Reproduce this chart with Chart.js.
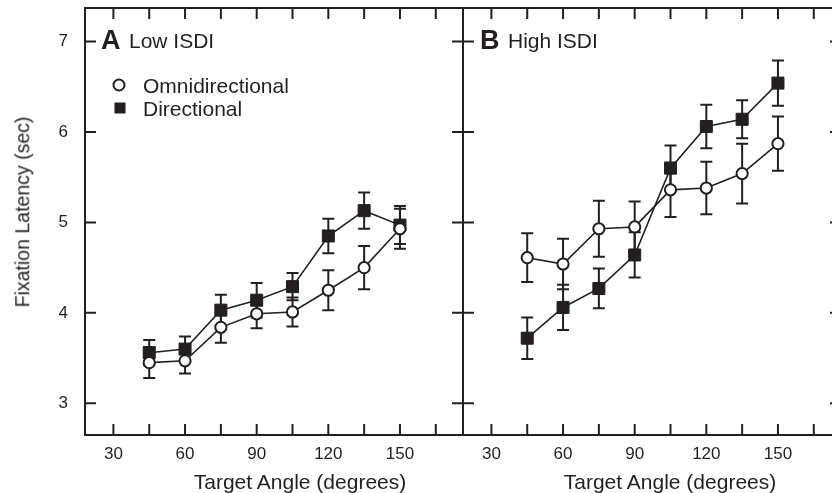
<!DOCTYPE html>
<html>
<head>
<meta charset="utf-8">
<script src="https://cdn.jsdelivr.net/npm/chart.js@4.4.1/dist/chart.umd.min.js"></script>
<style>
  html, body { margin: 0; padding: 0; background: #fff; }
  body { width: 832px; height: 493px; overflow: hidden; position: relative;
         font-family: "Liberation Sans", Arial, sans-serif; color: #231f20; }
  canvas { position: absolute; top: 0; }
  #chartA { left: 0; }
  #chartB { left: 453px; }
  .txt { position: absolute; white-space: nowrap; line-height: 1; transform: translate(0, -50%); }
  .ctr { transform: translate(-50%, -50%); }
  .panel { font-size: 27px; font-weight: bold; }
  .name { font-size: 21px; }
  .xtitle { font-size: 21px; }
  .ytitle { font-size: 19.5px; transform: translate(-50%, -50%) rotate(-90deg); }
  .mk-circle { position: absolute; width: 9px; height: 9px; border: 2px solid #231f20; border-radius: 50%; background: #fff; transform: translate(-50%, -50%); }
  .mk-square { position: absolute; width: 11px; height: 11px; background: #231f20; transform: translate(-50%, -50%); }
</style>
</head>
<body>
<canvas id="chartA" width="464" height="493"></canvas>
<canvas id="chartB" width="390" height="493"></canvas>

<div class="txt ytitle" style="left:23px; top:212px;">Fixation Latency (sec)</div>
<div class="txt xtitle ctr" style="left:300px; top:481px;">Target Angle (degrees)</div>
<div class="txt xtitle ctr" style="left:670px; top:481px;">Target Angle (degrees)</div>

<div class="txt panel" style="left:101px; top:40px;">A</div>
<div class="txt name" style="left:129px; top:40px;">Low ISDI</div>
<div class="txt panel" style="left:480px; top:40px;">B</div>
<div class="txt name" style="left:508px; top:40px;">High ISDI</div>

<div class="mk-circle" style="left:119px; top:85px;"></div>
<div class="txt name" style="left:143px; top:85px;">Omnidirectional</div>
<div class="mk-square" style="left:120px; top:108px;"></div>
<div class="txt name" style="left:143px; top:108px;">Directional</div>

<script>
const ink = '#231f20';

// target angles (degrees)
const angles = [45, 60, 75, 90, 105, 120, 135, 150];

// A: Low ISDI
const omniLow = [3.45, 3.47, 3.84, 3.99, 4.01, 4.25, 4.50, 4.93];
const omniLowErr = [0.17, 0.14, 0.17, 0.16, 0.16, 0.22, 0.24, 0.22];
const dirLow = [3.56, 3.60, 4.03, 4.14, 4.29, 4.85, 5.13, 4.97];
const dirLowErr = [0.14, 0.14, 0.17, 0.19, 0.15, 0.19, 0.20, 0.21];

// B: High ISDI
const omniHigh = [4.61, 4.54, 4.93, 4.95, 5.36, 5.38, 5.54, 5.87];
const omniHighErr = [0.27, 0.28, 0.31, 0.28, 0.30, 0.29, 0.33, 0.30];
const dirHigh = [3.72, 4.06, 4.27, 4.64, 5.60, 6.06, 6.14, 6.54];
const dirHighErr = [0.23, 0.25, 0.22, 0.25, 0.25, 0.24, 0.21, 0.25];

const xLabels = [30, 60, 90, 120, 150];

function pts(vals) {
  return angles.map((a, i) => ({ x: a, y: vals[i] }));
}

function noPad(s) {
  s.paddingTop = 0; s.paddingBottom = 0; s.paddingLeft = 0; s.paddingRight = 0;
}

// frame with inward tick marks on all four sides
const frame = {
  id: 'frame',
  beforeDatasetsDraw(chart) {
    const { ctx, chartArea: a, scales: { x, y } } = chart;
    const tl = 11;
    ctx.save();
    ctx.strokeStyle = ink;
    ctx.lineWidth = 2;
    ctx.strokeRect(a.left, a.top, a.right - a.left, a.bottom - a.top);
    ctx.beginPath();
    x.ticks.forEach(t => {
      const px = x.getPixelForValue(t.value);
      ctx.moveTo(px, a.bottom); ctx.lineTo(px, a.bottom - tl);
      ctx.moveTo(px, a.top); ctx.lineTo(px, a.top + tl);
    });
    y.ticks.forEach(t => {
      const py = y.getPixelForValue(t.value);
      ctx.moveTo(a.left, py); ctx.lineTo(a.left + tl, py);
      ctx.moveTo(a.right, py); ctx.lineTo(a.right - tl, py);
    });
    ctx.stroke();
    ctx.restore();
  }
};

const errorBars = {
  id: 'errorBars',
  beforeDatasetsDraw(chart) {
    const { ctx, scales: { x, y } } = chart;
    ctx.save();
    ctx.strokeStyle = ink;
    ctx.lineWidth = 2;
    chart.data.datasets.forEach(ds => {
      ds.data.forEach((p, i) => {
        const px = x.getPixelForValue(p.x);
        const lo = y.getPixelForValue(p.y - ds.errors[i]);
        const hi = y.getPixelForValue(p.y + ds.errors[i]);
        ctx.beginPath();
        ctx.moveTo(px, lo); ctx.lineTo(px, hi);
        ctx.moveTo(px - 6, lo); ctx.lineTo(px + 6, lo);
        ctx.moveTo(px - 6, hi); ctx.lineTo(px + 6, hi);
        ctx.stroke();
      });
    });
    ctx.restore();
  }
};

function makeChart(id, omni, omniErr, dir, dirErr, showY, padding) {
  return new Chart(document.getElementById(id), {
    type: 'line',
    data: {
      datasets: [
        {
          label: 'Omnidirectional',
          data: pts(omni),
          errors: omniErr,
          borderColor: ink,
          borderWidth: 1.6,
          pointStyle: 'circle',
          pointRadius: 5.6,
          pointBorderWidth: 2,
          pointBackgroundColor: '#fff',
          pointBorderColor: ink
        },
        {
          label: 'Directional',
          data: pts(dir),
          errors: dirErr,
          borderColor: ink,
          borderWidth: 1.6,
          pointStyle: 'rect',
          pointRadius: 8.5,
          pointBorderWidth: 1,
          pointBackgroundColor: ink,
          pointBorderColor: ink
        }
      ]
    },
    options: {
      responsive: false,
      animation: false,
      layout: { padding: padding, autoPadding: false },
      plugins: { legend: { display: false }, tooltip: { enabled: false } },
      scales: {
        x: {
          type: 'linear',
          min: 18.1,
          max: 176.4,
          grid: { display: false, drawTicks: false },
          border: { display: false },
          afterFit: s => { s.height = 58; noPad(s); },
          ticks: {
            stepSize: 15,
            includeBounds: false,
            autoSkip: false,
            maxRotation: 0,
            padding: 9,
            color: ink,
            font: { family: '"Liberation Sans", Arial, sans-serif', size: 17 },
            callback: v => xLabels.includes(v) ? String(v) : ''
          }
        },
        y: {
          min: 2.65,
          max: 7.37,
          grid: { display: false, drawTicks: false },
          border: { display: false },
          afterFit: s => { s.width = showY ? 85 : 10; noPad(s); },
          ticks: {
            display: showY,
            stepSize: 1,
            includeBounds: false,
            padding: 17,
            color: ink,
            font: { family: '"Liberation Sans", Arial, sans-serif', size: 17 }
          }
        }
      }
    },
    plugins: [frame, errorBars]
  });
}

makeChart('chartA', omniLow, omniLowErr, dirLow, dirLowErr, true, { top: 8, right: 1, left: 0, bottom: 0 });
makeChart('chartB', omniHigh, omniHighErr, dirHigh, dirHighErr, false, { top: 8, right: 2, left: 0, bottom: 0 });
</script>
</body>
</html>
